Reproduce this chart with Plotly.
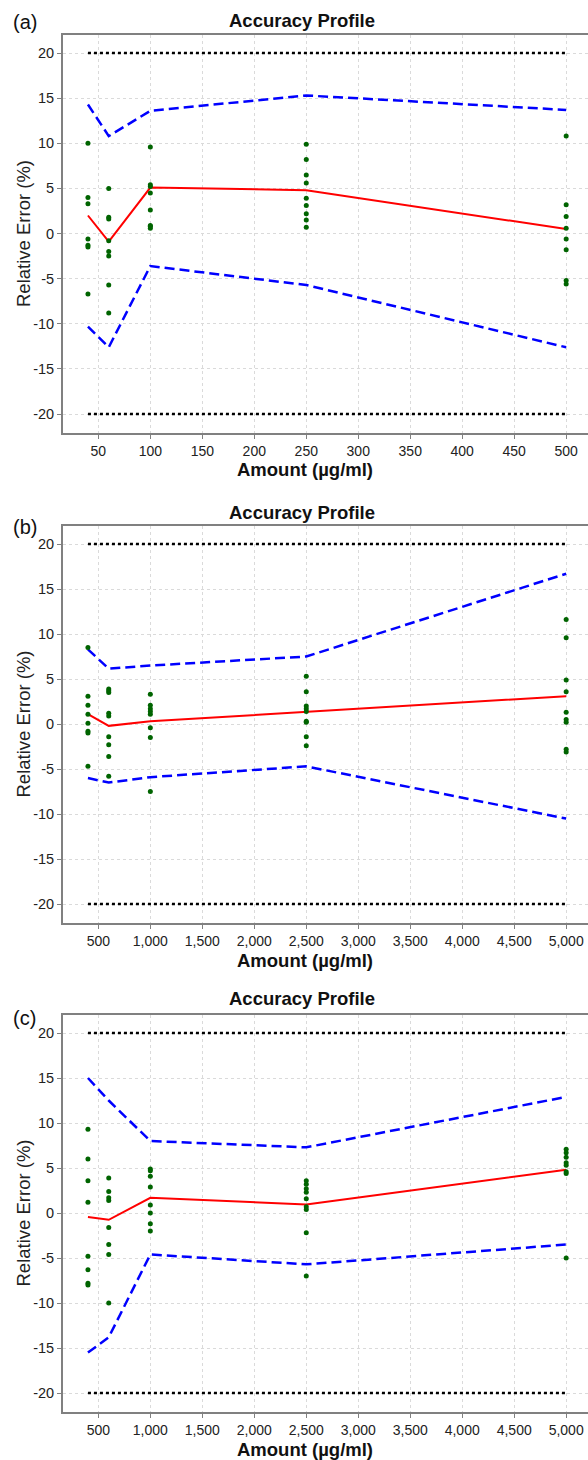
import plotly.graph_objects as go

# ---------------- data ----------------
levels_a = [40, 60, 100, 250, 500]
points_a = [
    [10.0, 4.0, 3.3, -0.6, -1.3, -1.5, -6.7],
    [5.0, 1.8, 1.6, -0.8, -2.0, -2.5, -5.7, -8.8],
    [9.6, 5.4, 5.2, 4.5, 2.6, 0.9, 0.8, 0.6],
    [9.9, 8.2, 6.5, 5.6, 3.9, 3.1, 2.2, 1.5, 0.7],
    [10.8, 3.2, 1.9, 0.6, -0.6, -1.8, -5.2, -5.6],
]
mean_a = [2.0, -0.9, 5.1, 4.8, 0.5]
upper_a = [14.3, 10.8, 13.6, 15.3, 13.7]
lower_a = [-10.3, -12.6, -3.6, -5.7, -12.6]

levels_b = [400, 600, 1000, 2500, 5000]
points_b = [
    [8.5, 3.1, 2.1, 1.1, 0.1, -0.8, -1.0, -4.7],
    [3.9, 3.7, 3.5, 1.2, 0.9, -1.4, -2.3, -3.6, -5.8],
    [3.3, 2.1, 1.7, 1.4, 1.1, -0.4, -1.5, -7.5],
    [5.3, 3.6, 2.0, 1.7, 1.4, 0.3, 0.2, -1.4, -2.4],
    [11.6, 9.6, 4.9, 3.6, 1.3, 0.5, 0.2, -2.8, -3.1],
]
mean_b = [1.1, -0.2, 0.3, 1.35, 3.1]
upper_b = [8.3, 6.15, 6.5, 7.5, 16.7]
lower_b = [-6.0, -6.5, -5.9, -4.7, -10.5]

levels_c = [400, 600, 1000, 2500, 5000]
points_c = [
    [9.3, 6.0, 3.6, 1.2, -4.8, -6.3, -7.8, -8.0],
    [3.9, 2.4, 1.7, 1.4, -1.6, -3.5, -4.6, -10.0],
    [4.9, 4.7, 4.1, 2.9, 0.9, 0.0, -1.2, -2.0],
    [3.6, 3.2, 2.7, 2.3, 1.6, 0.7, 0.4, -2.2, -7.0],
    [7.1, 6.7, 6.2, 5.6, 5.3, 4.6, 4.4, -5.0],
]
mean_c = [-0.45, -0.75, 1.7, 0.95, 4.8]
upper_c = [15.0, 12.5, 8.0, 7.3, 12.9]
lower_c = [-15.5, -13.8, -4.6, -5.7, -3.5]

acceptance = 20
y_ticks = [-20, -15, -10, -5, 0, 5, 10, 15, 20]
y_ticktext = ["-20", "-15", "-10", "-5", "0", "5", "10", "15", "20"]

panel_labels = ["(a)", "(b)", "(c)"]
title_text = "Accuracy Profile"
x_title = "Amount (µg/ml)"
y_title = "Relative Error (%)"

# ---------------- layout geometry ----------------
W, H = 588, 1460
FONT = "Liberation Sans, Arial, Helvetica, sans-serif"
x_left, x_right = 63, 588
panel_px = [(35, 433), (526, 923), (1015, 1412)]   # top, bottom pixel rows
x_ranges = [[16, 521], [160, 5210], [160, 5210]]
x_dticks = [50, 500, 500]

def py(p):
    return 1 - p / H

fig = go.Figure()
panels = [
    (levels_a, points_a, mean_a, upper_a, lower_a),
    (levels_b, points_b, mean_b, upper_b, lower_b),
    (levels_c, points_c, mean_c, upper_c, lower_c),
]

annotations = []
for i, (lev, pts, mean, up, lo) in enumerate(panels):
    sfx = "" if i == 0 else str(i + 1)
    xa, ya = "x" + sfx, "y" + sfx
    lim_x = [min(lev), max(lev)]
    # acceptance limits
    for s in (1, -1):
        fig.add_trace(go.Scatter(x=lim_x, y=[s * acceptance] * 2, mode="lines",
                                 line=dict(color="black", width=2.5, dash="dot"),
                                 xaxis=xa, yaxis=ya, showlegend=False, hoverinfo="skip"))
    # tolerance limits
    for band in (up, lo):
        fig.add_trace(go.Scatter(x=lev, y=band, mode="lines",
                                 line=dict(color="#0000ff", width=2.5, dash="10px,5px"),
                                 xaxis=xa, yaxis=ya, showlegend=False))
    # mean bias
    fig.add_trace(go.Scatter(x=lev, y=mean, mode="lines",
                             line=dict(color="#ff0000", width=2),
                             xaxis=xa, yaxis=ya, showlegend=False))
    # individual points
    xs, ys = [], []
    for lv, vals in zip(lev, pts):
        xs += [lv] * len(vals)
        ys += vals
    fig.add_trace(go.Scatter(x=xs, y=ys, mode="markers",
                             marker=dict(color="#006400", size=5),
                             xaxis=xa, yaxis=ya, showlegend=False))

    top, bot = panel_px[i]
    fig.layout["xaxis" + sfx] = dict(
        domain=[x_left / W, x_right / W], anchor=ya, range=x_ranges[i],
        tick0=0, dtick=x_dticks[i], tickformat=",d",
        showline=True, linecolor="#808080", linewidth=2, mirror=True,
        showgrid=True, gridcolor="#dadada", griddash="dot", gridwidth=1,
        ticks="outside", ticklen=4, tickcolor="#808080",
        tickfont=dict(family=FONT, size=14, color="#222"), zeroline=False,
    )
    fig.layout["yaxis" + sfx] = dict(
        domain=[py(bot), py(top)], anchor=xa, range=[-22.1, 22.0],
        tickmode="array", tickvals=y_ticks, ticktext=y_ticktext,
        showline=True, linecolor="#808080", linewidth=2, mirror=False,
        showgrid=True, gridcolor="#dadada", griddash="dot", gridwidth=1,
        ticks="outside", ticklen=4, tickcolor="#808080",
        tickfont=dict(family=FONT, size=14.5, color="#222"), zeroline=False,
    )
    title_y = [21, 512, 998][i]
    label_y = [22, 527, 1018][i]
    annotations += [
        dict(text="<b>" + title_text + "</b>", x=302 / W, y=py(title_y),
             xref="paper", yref="paper", xanchor="center", yanchor="middle",
             showarrow=False, font=dict(family=FONT, size=18.5, color="#111")),
        dict(text=panel_labels[i], x=11 / W, y=py(label_y),
             xref="paper", yref="paper", xanchor="left", yanchor="middle",
             showarrow=False, font=dict(family=FONT, size=20, color="#111")),
        dict(text="<b>" + x_title + "</b>", x=305 / W, y=py(bot + 37),
             xref="paper", yref="paper", xanchor="center", yanchor="middle",
             showarrow=False, font=dict(family=FONT, size=18.5, color="#111")),
        dict(text=y_title, x=23 / W, y=py((top + bot) / 2), textangle=-90,
             xref="paper", yref="paper", xanchor="center", yanchor="middle",
             showarrow=False, font=dict(family=FONT, size=18.5, color="#222")),
    ]

fig.update_layout(
    width=W, height=H, margin=dict(l=0, r=0, t=0, b=0),
    paper_bgcolor="white", plot_bgcolor="white",
    annotations=annotations, showlegend=False,
)
fig.write_html("out.html", config={"displayModeBar": False},
               post_script="document.body.style.margin='0';document.body.style.overflow='hidden';")
